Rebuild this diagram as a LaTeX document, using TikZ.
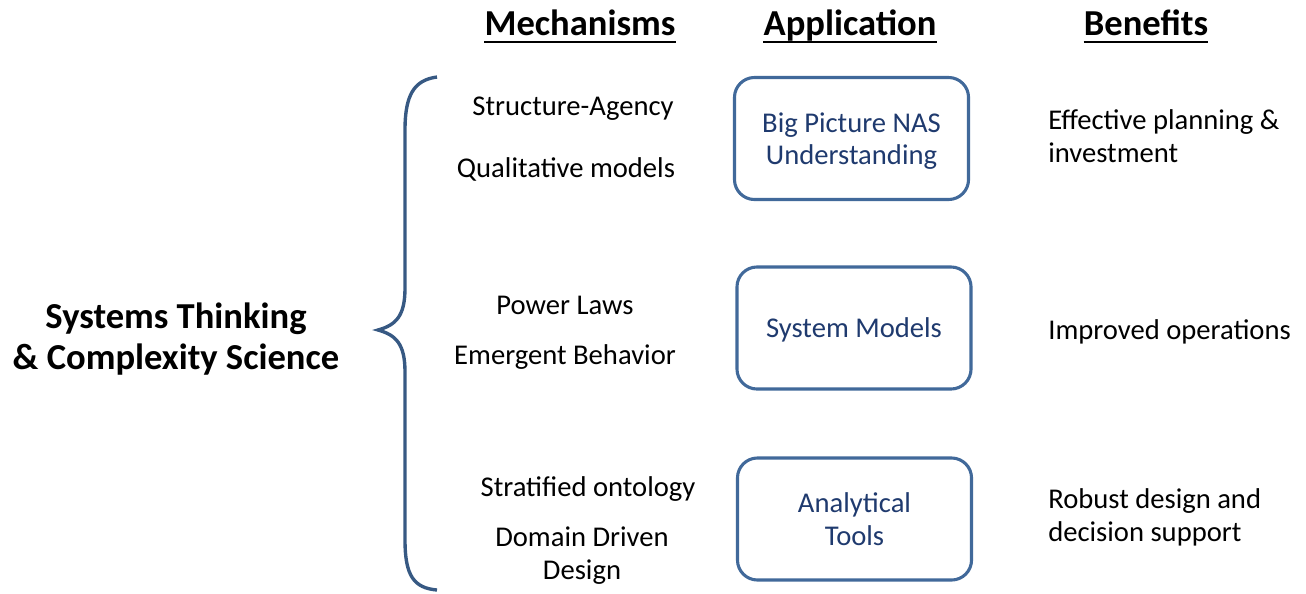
\documentclass[tikz,border=0pt]{standalone}
\usepackage{fontspec}
\setmainfont{Carlito}

\definecolor{boxblue}{HTML}{41699A}
\definecolor{inkblue}{HTML}{1F3A6E}

\begin{document}
\begin{tikzpicture}[x = 0.025cm, y = -0.025cm,
    plain/.style = {anchor = base, inner sep = 0pt, align = center, font = \fontsize{20.35}{23.2}\selectfont},
    left/.style = {plain, align = left, anchor = base west},
    heading/.style = {anchor = base, inner sep = 0pt, font = \bfseries\fontsize{26}{28.6}\selectfont},
    appbox/.style = {draw = boxblue, line width = 2.2pt, rounded corners = 0.5cm, minimum width = 5.85cm, minimum height = 3.05cm, text depth = 0pt, align = center, text = inkblue, font = \fontsize{20.35}{23.2}\selectfont}]

    \useasboundingbox (0, 0) rectangle (1306, 593);

    % column headings
    \node [heading] (mech) at (580, 35) {Mechanisms};
    \node [heading] (appl) at (850, 35) {Application};
    \node [heading] (bene) at (1146, 35) {Benefits};
    \foreach \h in {mech, appl, bene}
        \draw [line width = 1.8pt] ([yshift = -0.18cm]\h.base west) -- ([yshift = -0.18cm]\h.base east);

    % left title and brace (base = last line)
    \node [heading, align = center] (title) at (176, 369) {Systems Thinking\\\& Complexity Science};
    \draw [boxblue!85!black, line width = 2.4pt] (437, 77) .. controls (414, 80) and (405, 95) .. (405, 130) -- (405, 288)
        .. controls (405, 316) and (396, 325) .. (378, 330) .. controls (396, 335) and (405, 344) .. (405, 372)
        -- (405, 540) .. controls (405, 576) and (414, 588) .. (437, 590);

    %%%%%%%%%%%%%%%%%%%%
    \node [plain] (struct) at (573, 115) {Structure-Agency};
    \node [plain] (qual) at (566, 177) {Qualitative models};
    \node [plain] (power) at (565, 314) {Power Laws};
    \node [plain] (emerg) at (565, 364) {Emergent Behavior};
    \node [plain] (strat) at (588, 496) {Stratified ontology};
    \node [plain] (domain) at (582, 579) {Domain Driven\\Design};

    %%%%%%%%%%%%%%%%%%%%
    \node [appbox] (bigpic) at (851.5, 138.5) {Big Picture NAS\\Understanding};
    \node [appbox] (sysmod) at (854, 328) {System Models};
    \node [appbox] (tools) at (854.5, 519) {Analytical\\Tools};

    %%%%%%%%%%%%%%%%%%%%
    \node [left] (plan) at (1048, 162) {Effective planning \&\\investment};
    \node [left] (oper) at (1048, 339) {Improved operations};
    \node [left] (robust) at (1048, 541) {Robust design and\\decision support};
\end{tikzpicture}
\end{document}
